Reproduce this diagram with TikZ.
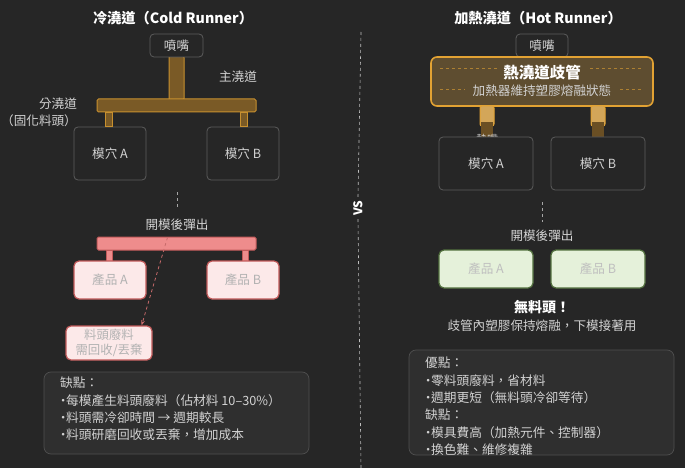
\documentclass[tikz,border=0pt]{standalone}
\usepackage{fontspec}
\setmainfont{Noto Sans CJK TC}
\usetikzlibrary{arrows.meta}
\usetikzlibrary{positioning}
\usetikzlibrary{calc}
\definecolor{bgdark}{HTML}{262626}
\definecolor{boxgray}{HTML}{5C5C5C}
\definecolor{txtgray}{HTML}{D2D2D2}
\definecolor{runfill}{HTML}{7A5A26}
\definecolor{runedge}{HTML}{C8902F}
\definecolor{mfill}{HTML}{5E4D30}
\definecolor{medge}{HTML}{E2A233}
\definecolor{pinkbar}{HTML}{EE8C8C}
\definecolor{pinkedge}{HTML}{C25A5A}
\definecolor{pinkfill}{HTML}{FCE9E9}
\definecolor{greenfill}{HTML}{E5F1DA}
\definecolor{greenedge}{HTML}{52703E}
\newcommand{\dotitem}{\hbox to 6pt{\hss·\hss}}

\tikzset{
  title/.style={text=white, font=\bfseries\fontsize{14.2}{16}\selectfont},
  lbl/.style={text=txtgray, font=\fontsize{12.6}{14}\selectfont},
  box/.style={draw=boxgray, fill=bgdark, rounded corners=4pt, line width=0.8pt,
    inner sep=0pt, text=txtgray, font=\fontsize{12.6}{14}\selectfont},
  bar/.style={draw=runedge, fill=runfill, line width=1pt, rounded corners=1.5pt},
  ejbar/.style={draw=pinkedge, fill=pinkbar, line width=1pt, rounded corners=1.5pt},
  prodpink/.style={draw=pinkedge, fill=pinkfill, rounded corners=5pt, line width=1.2pt,
    inner sep=0pt, text=black!30, font=\fontsize{12.6}{14}\selectfont},
  prodgreen/.style={draw=greenedge, fill=greenfill, rounded corners=5pt, line width=1.2pt,
    inner sep=0pt, text=black!25, font=\fontsize{12.6}{14}\selectfont},
  notebox/.style={draw=boxgray!75!bgdark, fill=bgdark!96!white, rounded corners=7pt, line width=0.7pt, inner sep=0pt},
  notetxt/.style={text=txtgray, align=left, font=\fontsize{12.7}{17.3}\selectfont, inner sep=0pt},
  guide/.style={draw=gray!70, dashed, line width=0.6pt},
}

\begin{document}
\begin{tikzpicture}[x=1pt, y=-1pt]
  \fill[bgdark] (0,0) rectangle (685,468);
  \useasboundingbox (0,0) rectangle (685,468);

  % divider
  \node[text=white, rotate=90, font=\bfseries\fontsize{12}{14}\selectfont] (vs) at (358,208) {VS};
  \draw[guide, gray!50] (361,32) -- (vs.east);
  \draw[guide, gray!50] (vs.west) -- (361,468);

  % ---- cold runner ----
  \node[title] (titleL) at (173,18) {冷澆道（Cold Runner）};
  \draw[bar] (169,56) rectangle (184,100);
  \node[box, minimum width=53pt, minimum height=23pt] (nozL) at (176.5,45.5) {噴嘴};
  \node[bar, minimum width=159pt, minimum height=13pt, inner sep=0pt] (runL) at (176.5,105.5) {};
  \node[box, minimum width=72pt, minimum height=53pt] (cavA) at (110,153.5) {模穴 A};
  \node[box, minimum width=72pt, minimum height=53pt] (cavB) at (243,153.5) {模穴 B};
  \draw[bar, rounded corners=0pt] ($(runL.south -| cavA.north)+(-4.5,0)$) rectangle ($(cavA.north)+(2.5,0)$);
  \draw[bar, rounded corners=0pt] ($(runL.south -| cavB.north)+(-3,0)$) rectangle ($(cavB.north)+(4,0)$);
  \node[lbl] (mainL) at (238,77) {主澆道};
  \node[lbl] (subL) at (58,104) {分澆道};
  \node[lbl, below=-2pt of subL, xshift=-19pt] (subL2) {（固化料頭）};

  \draw[guide] (177,192) -- (177,210);
  \node[lbl] (openL) at (177,225) {開模後彈出};
  \node[ejbar, minimum width=159pt, minimum height=13pt, inner sep=0pt] (ejL) at (176.5,243.5) {};
  \draw[ejbar, rounded corners=0pt] (106,250) rectangle (112,261);
  \draw[ejbar, rounded corners=0pt] (242,250) rectangle (248,261);
  \node[prodpink, minimum width=72pt, minimum height=38pt] (prodA) at (110,280) {產品 A};
  \node[prodpink, minimum width=72pt, minimum height=38pt] (prodB) at (243,280) {產品 B};
  \node[prodpink, minimum width=86pt, minimum height=34pt, align=center,
    font=\fontsize{12.4}{15}\selectfont] (scrap) at (109,343) {料頭廢料\\需回收/丟棄};
  \draw[pinkedge!90!white, dashed, line width=0.8pt, -{Stealth[length=5pt]}]
    ($(ejL.north)+(-9,1)$) -- ($(scrap.north east)+(-11,0)$);

  \node[notebox, minimum width=265pt, minimum height=82pt] (consL) at (176.5,413) {};
  \node[notetxt, anchor=north west] (consLtxt) at (60,377) {缺點：\\
    \dotitem 每模產生料頭廢料（佔材料 10–30\%）\\
    \dotitem 料頭需冷卻時間 → 週期較長\\
    \dotitem 料頭研磨回收或丟棄，增加成本};

  % ---- hot runner ----
  \node[title] (titleR) at (538,18) {加熱澆道（Hot Runner）};
  \node[box, minimum width=52pt, minimum height=23pt] (nozR) at (542,45.5) {噴嘴};
  \node[draw=medge, fill=mfill, line width=1.6pt, rounded corners=6pt,
    minimum width=222pt, minimum height=49pt] (mani) at (542,81.5) {};
  \draw[dashed, draw=medge!60!mfill, line width=0.7pt] ($(mani.west)+(10,-13.5)$) -- ($(mani.east)+(-10,-13.5)$);
  \draw[dashed, draw=medge!60!mfill, line width=0.7pt] ($(mani.west)+(10,7.5)$) -- ($(mani.east)+(-10,7.5)$);
  \node[fill=mfill, text=white, font=\bfseries\fontsize{15.5}{17}\selectfont, inner xsep=6pt, inner ysep=1pt]
    (maniT) at (542,73) {熱澆道歧管};
  \node[fill=mfill, text=txtgray, font=\fontsize{12.6}{14}\selectfont, inner xsep=8pt, inner ysep=1pt]
    (maniS) at (542,90.5) {加熱器維持塑膠熔融狀態};

  \draw[draw=medge, fill=runedge!80!white, line width=1pt, rounded corners=2pt] (480,106) rectangle (494,126);
  \fill[runfill!120!runedge] (481,122) rectangle (493,137);
  \draw[draw=medge, fill=runedge!80!white, line width=1pt, rounded corners=2pt] (591,106) rectangle (605,126);
  \fill[runfill!120!runedge] (592,122) rectangle (604,137);
  \node[text=txtgray, font=\fontsize{11}{13}\selectfont] (tip) at (487,139) {熱嘴};
  \node[box, minimum width=94pt, minimum height=53pt] (cavRA) at (486,163.5) {模穴 A};
  \node[box, minimum width=94pt, minimum height=53pt] (cavRB) at (598,163.5) {模穴 B};

  \draw[guide] (542,202) -- (542,222);
  \node[lbl] (openR) at (542,236) {開模後彈出};
  \node[prodgreen, minimum width=94pt, minimum height=38pt] (prodRA) at (486,269) {產品 A};
  \node[prodgreen, minimum width=94pt, minimum height=38pt] (prodRB) at (598,269) {產品 B};
  \node[text=white, font=\bfseries\fontsize{14}{16}\selectfont] (nosprue) at (542,307) {無料頭！};
  \node[lbl] (nosprue2) at (542,326) {歧管內塑膠保持熔融，下模接著用};

  \node[notebox, minimum width=265pt, minimum height=105pt] (prosR) at (541.5,402.5) {};
  \node[notetxt, anchor=north west] (prosRtxt) at (425,357) {優點：\\
    \dotitem 零料頭廢料，省材料\\
    \dotitem 週期更短（無料頭冷卻等待）\\
    缺點：\\
    \dotitem 模具費高（加熱元件、控制器）\\
    \dotitem 換色難、維修複雜};
\end{tikzpicture}
\end{document}
